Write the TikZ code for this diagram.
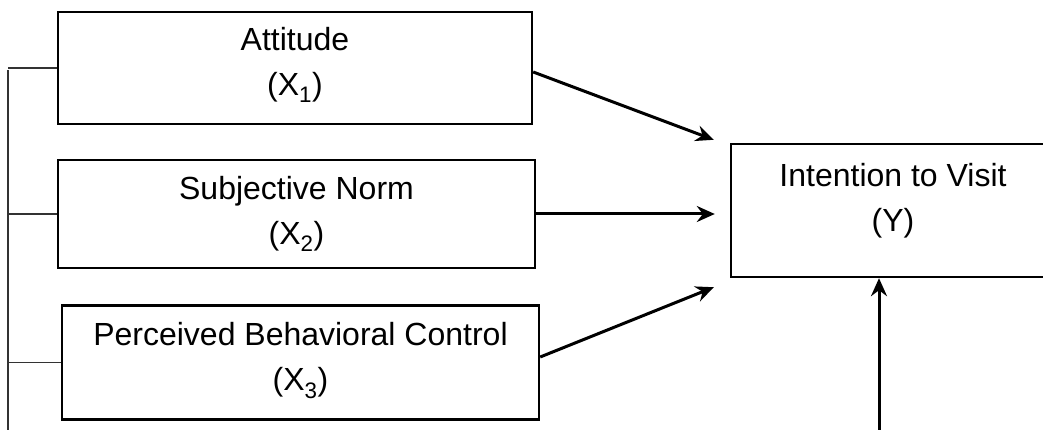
\documentclass[tikz,border=0pt]{standalone}
\usepackage{fontspec}
\setmainfont{Liberation Sans}
\usepackage{tikz}
\usetikzlibrary{calc,arrows.meta}
\tikzset{
  box/.style={draw=black, line width=2.4pt, inner sep=0pt},
  arr/.style={draw=black, line width=3pt, -{Stealth[length=18pt,width=16pt,inset=6pt]}},
  tie/.style={draw=black!80, line width=1.3pt},
  lab/.style={text=black, align=center, font=\fontsize{32}{45}\selectfont},
}

\begin{document}
\begin{tikzpicture}[x=1pt,y=-1pt]
  \useasboundingbox (0,0) rectangle (1043,430);

  % predictors
  \node[box, minimum width=474pt, minimum height=112pt,
    label={[lab,yshift=3.5pt]center:Attitude\\(X\textsubscript{1})}] (att) at (295,68) {};
  \node[box, minimum width=477pt, minimum height=108pt,
    label={[lab]center:Subjective Norm\\(X\textsubscript{2})}] (sub) at (296.5,214) {};
  \node[box, minimum width=477pt, minimum height=114pt,
    label={[lab,yshift=2pt]center:Perceived Behavioral Control\\(X\textsubscript{3})}] (pbc) at (300.5,362.5) {};

  % outcome (runs past the right edge)
  \node[box, minimum width=324pt, minimum height=133pt,
    label={[lab,yshift=9.5pt]center:Intention to Visit\\(Y)}] (int) at (893,210.5) {};

  % bracket on the left
  \coordinate (bustop) at (8,70);
  \coordinate (busbot) at (8,430);
  \draw[tie] (bustop) -- (busbot);
  \draw[tie] (bustop |- att.west) -- (att.west);
  \draw[tie] (bustop |- sub.west) -- (sub.west);
  \draw[tie] (bustop |- pbc.west) -- (pbc.west);

  % arrows into Y
  \draw[arr] ([yshift=-4pt]att.east) -- ($(int.north west)+(-16,-3)$);
  \draw[arr] (sub.east) -- ($(sub.east -| int.west)+(-15,0)$);
  \draw[arr] ([yshift=5.5pt]pbc.east) -- ($(int.south west)+(-16,9)$);
  \coordinate (yin) at (879,430);
  \draw[arr] (yin) -- (yin |- int.south);
\end{tikzpicture}
\end{document}
